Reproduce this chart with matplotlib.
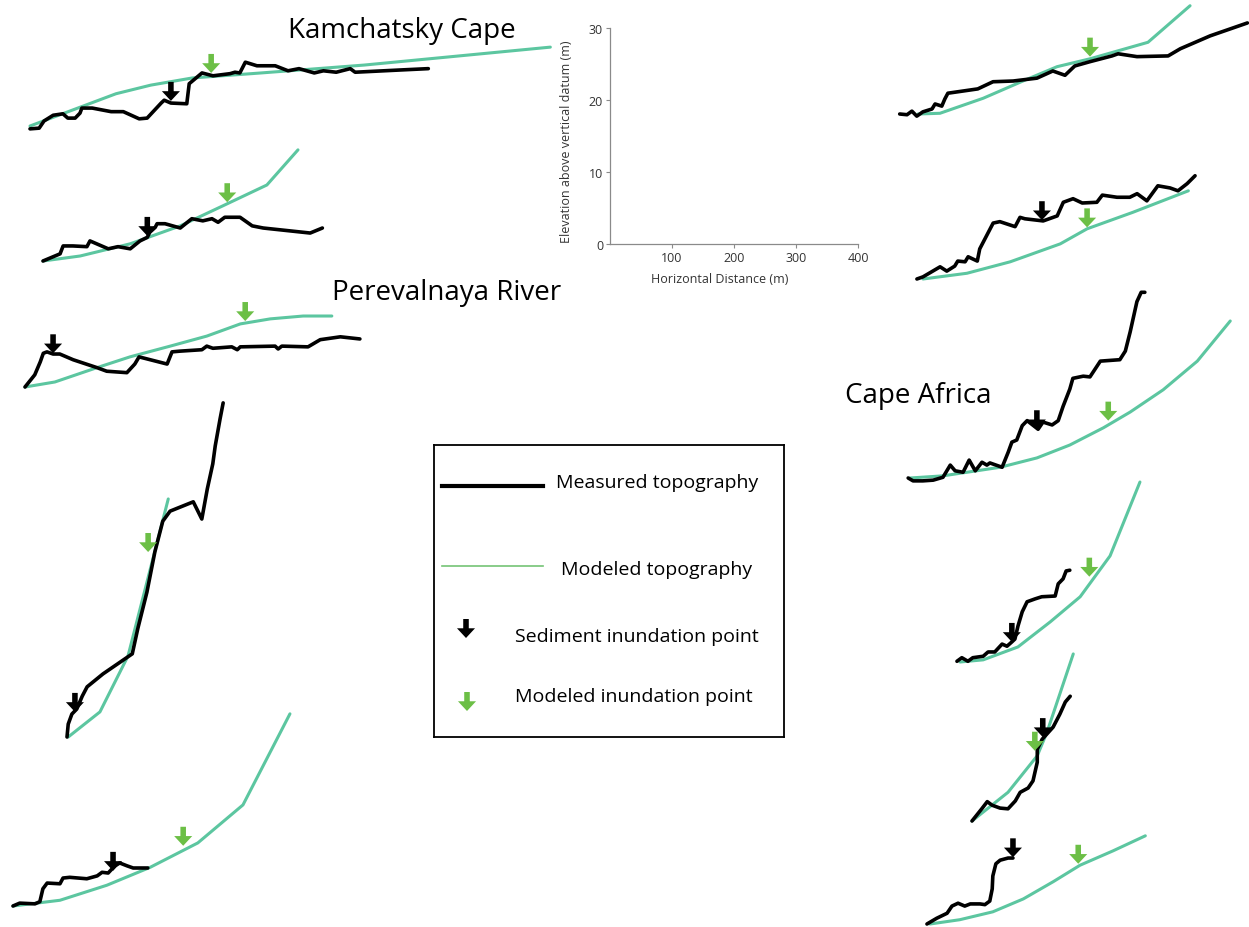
import matplotlib.pyplot as plt

plt.rcParams['font.family'] = ['Open Sans', 'DejaVu Sans']

W, H = 1249, 928
# drawing scale (pixels per metre), same for every profile
SX = 0.61
SY = 7.17

BLACK = '#000000'
GREEN_LINE = '#5cc6a0'
GREEN_ARROW = '#6cbf46'

# ---- profile data: distance (m), elevation (m) relative to profile start ----
# profile 1 (Kamchatsky Cape, top)
p1_meas_x = [0, 15, 23, 38, 54, 62, 74, 82, 85, 102, 133, 153, 179, 192, 215, 220, 231, 257, 261, 282,
             300, 328, 336, 344, 353, 372, 402, 423, 441, 466, 481, 502, 525, 533, 604, 653]
p1_meas_y = [-0.4, -0.3, 0.7, 1.5, 1.7, 1.1, 1.1, 1.8, 2.5, 2.5, 2.0, 2.0, 1.0, 1.1, 3.2, 3.6, 3.2, 3.1, 5.9, 7.4,
             7.0, 7.3, 7.5, 7.4, 8.9, 8.4, 8.4, 7.7, 8.0, 7.4, 7.7, 7.5, 8.0, 7.5, 7.8, 8.0]
p1_model_x = [0, 141, 198, 266, 379, 548, 853]
p1_model_y = [0, 4.5, 5.7, 6.7, 7.4, 8.5, 11.0]
p1_sediment = (231, 3.5)
p1_modeled = (297, 7.4)

# profile 2
p2_meas_x = [0, 28, 33, 49, 72, 77, 107, 123, 143, 159, 171, 175, 184, 187, 200, 225, 244, 262, 277, 287,
             298, 323, 343, 361, 394, 438, 458]
p2_meas_y = [0, 1.0, 2.1, 2.1, 2.0, 2.8, 1.7, 2.0, 1.7, 2.8, 3.3, 4.0, 4.7, 5.2, 5.2, 4.6, 5.9, 5.6, 5.9, 5.4,
             6.1, 6.1, 4.9, 4.6, 4.3, 3.9, 4.6]
p2_model_x = [0, 61, 143, 225, 295, 367, 418]
p2_model_y = [0, 0.7, 2.4, 4.9, 7.7, 10.6, 15.5]
p2_sediment = (171, 3.5)
p2_modeled = (302, 8.2)

# profile 3 (Perevalnaya River, top)
p3_meas_x = [0, 16, 25, 30, 36, 46, 57, 79, 118, 134, 167, 180, 187, 233, 241, 254, 290, 298, 308, 339,
             348, 353, 410, 415, 421, 464, 472, 484, 517, 549]
p3_meas_y = [0, 1.7, 3.5, 4.7, 4.9, 4.6, 4.6, 3.8, 2.7, 2.2, 2.0, 3.2, 4.2, 3.2, 4.9, 5.0, 5.2, 5.7, 5.4, 5.6,
             5.2, 5.6, 5.7, 5.3, 5.7, 5.6, 6.0, 6.6, 7.0, 6.7]
p3_model_x = [0, 49, 118, 172, 238, 298, 353, 402, 456, 503]
p3_model_y = [0, 0.7, 2.7, 4.2, 5.7, 7.1, 8.8, 9.5, 9.9, 9.9]
p3_sediment = (46, 4.7)
p3_modeled = (361, 9.2)

# profile 4
p4_meas_x = [0, 2, 8, 16, 25, 33, 59, 107, 116, 131, 144, 157, 169, 207, 221, 230, 239, 243, 251, 256]
p4_meas_y = [0, 1.8, 3.2, 3.9, 5.7, 7.0, 8.8, 11.6, 15.1, 20.2, 25.8, 30.1, 31.5, 32.8, 30.4, 34.6, 38.1,
             40.6, 44.4, 46.6]
p4_model_x = [2, 54, 100, 166]
p4_model_y = [0, 3.5, 11.3, 33.2]
p4_sediment = (13, 3.5)
p4_modeled = (133, 25.8)

# profile 5
p5_meas_x = [0, 11, 36, 44, 49, 56, 77, 82, 93, 121, 138, 146, 156, 167, 175, 187, 197, 221]
p5_meas_y = [0, 0.4, 0.3, 0.6, 2.4, 3.2, 3.1, 3.9, 4.0, 3.8, 4.2, 4.7, 4.6, 5.6, 6.0, 5.6, 5.3, 5.3]
p5_model_x = [0, 77, 154, 225, 303, 377, 454]
p5_model_y = [0, 0.8, 2.9, 5.4, 8.8, 14.1, 26.8]
p5_sediment = (164, 4.9)
p5_modeled = (279, 8.4)

# profile 6 (top right)
p6_meas_x = [-30, -18, -10, -2, 8, 23, 28, 39, 44, 49, 98, 123, 156, 195, 221, 241, 257, 282, 318, 328,
             359, 410, 430, 479, 540]
p6_meas_y = [0, -0.1, 0.4, -0.3, 0.3, 0.7, 1.4, 1.1, 2.1, 2.9, 3.5, 4.5, 4.6, 5.0, 6.0, 5.4, 6.7, 7.3, 8.1,
             8.4, 8.0, 8.1, 9.1, 10.9, 12.7]
p6_model_x = [0, 36, 107, 172, 228, 282, 377, 446]
p6_model_y = [0, 0.1, 2.2, 4.6, 6.6, 7.7, 10.0, 15.1]
p6_sediment = None
p6_modeled = (282, 8.0)

# profile 7
p7_meas_x = [-10, 0, 16, 28, 39, 52, 57, 69, 74, 89, 93, 115, 126, 151, 159, 167, 197, 220, 230, 246,
             261, 285, 294, 318, 339, 351, 367, 385, 405, 418, 433, 446]
p7_meas_y = [0, 0.3, 1.1, 1.7, 1.1, 1.8, 2.5, 2.4, 3.1, 2.5, 4.2, 7.8, 8.0, 7.3, 8.6, 8.4, 8.1, 8.8, 10.7,
             11.2, 10.6, 10.7, 11.7, 11.4, 11.4, 11.9, 10.9, 13.0, 12.7, 12.3, 13.3, 14.4]
p7_model_x = [0, 72, 143, 225, 269, 344, 435]
p7_model_y = [0, 0.8, 2.4, 4.9, 7.0, 9.3, 12.3]
p7_sediment = (195, 8.2)
p7_modeled = (269, 7.2)

# profile 8 (Cape Africa, top)
p8_meas_x = [-3, 5, 21, 38, 54, 66, 74, 87, 97, 107, 118, 126, 131, 151, 161, 167, 175, 184, 192, 210,
             218, 233, 243, 251, 262, 267, 284, 295, 312, 344, 353, 361, 372, 379, 385]
p8_meas_y = [0, -0.4, -0.4, -0.3, 0.1, 1.8, 1.0, 0.8, 2.5, 1.0, 2.2, 1.8, 2.1, 1.5, 3.6, 5.0, 5.3, 7.3, 8.0,
             6.8, 7.8, 7.4, 8.0, 10.0, 12.4, 13.9, 14.2, 14.1, 16.3, 16.5, 17.7, 20.4, 24.6, 25.9, 25.9]
p8_model_x = [0, 54, 148, 208, 262, 317, 361, 415, 471, 525]
p8_model_y = [0, 0.3, 1.5, 2.8, 4.6, 7.0, 9.2, 12.3, 16.3, 21.9]
p8_sediment = (208, 6.8)
p8_modeled = (325, 8.0)

# profile 9
p9_meas_x = [-5, 3, 13, 21, 38, 46, 57, 69, 77, 85, 90, 95, 102, 110, 123, 134, 156, 161, 169, 174, 180]
p9_meas_y = [0.1, 0.6, 0.1, 0.6, 0.8, 1.4, 1.4, 2.5, 2.2, 2.8, 3.2, 5.0, 7.0, 8.4, 8.8, 9.1, 9.2, 10.9,
             11.6, 12.7, 12.8]
p9_model_x = [0, 38, 95, 148, 197, 246, 295]
p9_model_y = [0, 0.3, 2.1, 5.6, 9.1, 14.8, 25.1]
p9_sediment = (85, 2.8)
p9_modeled = (212, 11.9)

# profile 10
p10_meas_x = [0, 16, 25, 33, 46, 59, 71, 79, 92, 100, 107, 107, 115, 133, 144, 153, 161]
p10_meas_y = [0, 1.7, 2.7, 2.2, 1.8, 1.7, 2.8, 4.0, 4.6, 5.6, 8.2, 10.0, 11.4, 13.1, 14.9, 16.6, 17.4]
p10_model_x = [0, 59, 107, 123, 166]
p10_model_y = [0, 4.0, 9.1, 12.4, 23.3]
p10_sediment = (116, 11.7)
p10_modeled = (103, 9.8)

# profile 11
p11_meas_x = [-5, 11, 28, 36, 46, 57, 66, 82, 90, 98, 102, 103, 108, 115, 128, 136]
p11_meas_y = [0, 0.8, 1.5, 2.5, 2.9, 2.5, 2.8, 2.8, 2.7, 3.2, 4.9, 6.7, 8.4, 8.9, 9.2, 9.2]
p11_model_x = [0, 49, 103, 153, 202, 246, 300, 353]
p11_model_y = [0, 0.6, 1.7, 3.5, 5.9, 8.2, 10.2, 12.3]
p11_sediment = (136, 9.3)
p11_modeled = (243, 8.4)

profiles = [
    (p1_meas_x, p1_meas_y, p1_model_x, p1_model_y, p1_sediment, p1_modeled),
    (p2_meas_x, p2_meas_y, p2_model_x, p2_model_y, p2_sediment, p2_modeled),
    (p3_meas_x, p3_meas_y, p3_model_x, p3_model_y, p3_sediment, p3_modeled),
    (p4_meas_x, p4_meas_y, p4_model_x, p4_model_y, p4_sediment, p4_modeled),
    (p5_meas_x, p5_meas_y, p5_model_x, p5_model_y, p5_sediment, p5_modeled),
    (p6_meas_x, p6_meas_y, p6_model_x, p6_model_y, p6_sediment, p6_modeled),
    (p7_meas_x, p7_meas_y, p7_model_x, p7_model_y, p7_sediment, p7_modeled),
    (p8_meas_x, p8_meas_y, p8_model_x, p8_model_y, p8_sediment, p8_modeled),
    (p9_meas_x, p9_meas_y, p9_model_x, p9_model_y, p9_sediment, p9_modeled),
    (p10_meas_x, p10_meas_y, p10_model_x, p10_model_y, p10_sediment, p10_modeled),
    (p11_meas_x, p11_meas_y, p11_model_x, p11_model_y, p11_sediment, p11_modeled),
]

# where each profile starts on the sheet (pixels from top-left)
origins = [(30, 127), (43, 262), (25, 388), (67, 738), (13, 907),
           (918, 115), (923, 280), (910, 479), (960, 663), (972, 822), (930, 925)]

# scale bar axes ticks
scale_xticks = [100, 200, 300, 400]
scale_yticks = [0, 10, 20, 30]


def down_arrow(ax, xy, color, length=19, coords='data'):
    ax.annotate('', xy=xy, xycoords=coords, xytext=(0, length), textcoords='offset pixels',
                arrowprops=dict(arrowstyle='simple,head_length=7,head_width=13,tail_width=4',
                                mutation_scale=1, color=color, lw=0, shrinkA=0, shrinkB=0))


def fx(px):
    return px / W


def fy(py):
    return 1 - py / H


fig = plt.figure(figsize=(W / 100, H / 100), dpi=100)

for (mx, my, gx, gy, sed, mod), (x0, y0) in zip(profiles, origins):
    ax = fig.add_axes([0, 0, 1, 1])
    ax.set_xlim(-x0 / SX, (W - x0) / SX)
    ax.set_ylim((y0 - H) / SY, y0 / SY)
    ax.axis('off')
    ax.patch.set_alpha(0)
    ax.plot(gx, gy, color=GREEN_LINE, lw=2.2, solid_joinstyle='round', solid_capstyle='round')
    ax.plot(mx, my, color=BLACK, lw=2.6, solid_joinstyle='round', solid_capstyle='round')
    if sed is not None:
        down_arrow(ax, sed, BLACK)
    if mod is not None:
        down_arrow(ax, mod, GREEN_ARROW)

# scale axes
sax = fig.add_axes([fx(610), fy(245), (858 - 610) / W, (245 - 29) / H])
sax.set_xlim(0, 400)
sax.set_ylim(0, 30)
sax.set_xticks(scale_xticks)
sax.set_yticks(scale_yticks)
for s in ['top', 'right']:
    sax.spines[s].set_visible(False)
for s in ['left', 'bottom']:
    sax.spines[s].set_color('#8a8a8a')
    sax.spines[s].set_linewidth(0.9)
sax.tick_params(length=3, width=0.8, color='#8a8a8a', labelsize=9, labelcolor='#333333', pad=2)
sax.set_xlabel('Horizontal Distance (m)', fontsize=9, color='#333333')
sax.set_ylabel('Elevation above vertical datum (m)', fontsize=9, color='#333333')
sax.xaxis.set_label_coords(0.444, -0.13)
sax.yaxis.set_label_coords(-0.15, 0.48)
sax.patch.set_alpha(0)

# site titles
fig.text(fx(288), fy(38), 'Kamchatsky Cape', fontsize=20, ha='left', va='baseline')
fig.text(fx(332), fy(300), 'Perevalnaya River', fontsize=20, ha='left', va='baseline')
fig.text(fx(845), fy(403), 'Cape Africa', fontsize=20, ha='left', va='baseline')

# legend box
lax = fig.add_axes([fx(434), fy(738), (784 - 434) / W, (738 - 446) / H])
lax.set_xlim(434, 784)
lax.set_ylim(738, 446)
lax.set_xticks([])
lax.set_yticks([])
for s in lax.spines.values():
    s.set_linewidth(1.3)
lax.plot([442, 543], [487, 487], color=BLACK, lw=3)
lax.plot([442, 543], [567, 567], color='#74c475', lw=1.2)
down_arrow(lax, (466, 639), BLACK, length=19)
down_arrow(lax, (467, 712), GREEN_ARROW, length=19)
lax.text(556, 488, 'Measured topography', fontsize=14, va='baseline')
lax.text(561, 575, 'Modeled topography', fontsize=14, va='baseline')
lax.text(515, 642, 'Sediment inundation point', fontsize=14, va='baseline')
lax.text(515, 702, 'Modeled inundation point', fontsize=14, va='baseline')

fig.savefig('out.png', dpi=100)
